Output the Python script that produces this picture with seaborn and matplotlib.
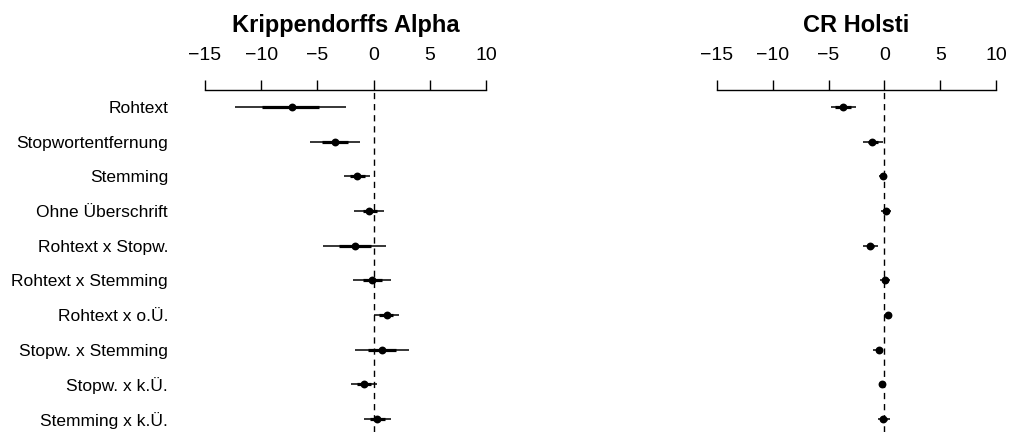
import matplotlib
matplotlib.use("Agg")
import matplotlib.pyplot as plt
import seaborn as sns
import pandas as pd

# Model terms (top to bottom)
terms = [
    "Rohtext", "Stopwortentfernung", "Stemming", "Ohne Überschrift",
    "Rohtext x Stopw.", "Rohtext x Stemming", "Rohtext x o.Ü.",
    "Stopw. x Stemming", "Stopw. x k.Ü.", "Stemming x k.Ü.",
]

# Krippendorffs Alpha: estimate, inner (±1 SE) and outer (±2 SE) intervals
alpha_est = [-7.3, -3.45, -1.5, -0.4, -1.7, -0.15, 1.15, 0.7, -0.9, 0.33]
alpha_lo1 = [-9.9, -4.6, -2.1, -0.97, -3.1, -0.97, 0.5, -0.47, -1.5, -0.32]
alpha_hi1 = [-4.9, -2.25, -0.8, 0.33, -0.23, 0.77, 1.75, 1.96, -0.26, 0.98]
alpha_lo2 = [-12.3, -5.7, -2.63, -1.74, -4.47, -1.83, 0.04, -1.63, -2.04, -0.85]
alpha_hi2 = [-2.5, -1.18, -0.35, 0.95, 1.13, 1.58, 2.23, 3.12, 0.27, 1.52]

# CR Holsti
holsti_est = [-3.7, -1.07, -0.14, 0.13, -1.25, 0.06, 0.3, -0.5, -0.23, -0.13]
holsti_lo1 = [-4.4, -1.5, -0.3, -0.12, -1.6, -0.18, 0.12, -0.75, -0.38, -0.35]
holsti_hi1 = [-3.0, -0.54, 0.05, 0.38, -0.9, 0.3, 0.48, -0.25, -0.08, 0.2]
holsti_lo2 = [-4.8, -1.9, -0.45, -0.32, -1.96, -0.37, 0.0, -1.0, -0.52, -0.58]
holsti_hi2 = [-2.54, -0.14, 0.18, 0.6, -0.54, 0.52, 0.66, -0.1, 0.06, 0.49]

titles = ["Krippendorffs Alpha", "CR Holsti"]
xticks = [-15, -10, -5, 0, 5, 10]

sns.set_theme(style="white")
plt.rcParams["font.family"] = ["Liberation Sans", "DejaVu Sans"]
plt.rcParams["axes.unicode_minus"] = True
plt.rcParams["text.color"] = "black"
plt.rcParams["xtick.color"] = "black"
plt.rcParams["ytick.color"] = "black"
plt.rcParams["xtick.labelcolor"] = "black"
plt.rcParams["ytick.labelcolor"] = "black"

W, H = 1010, 432
fig = plt.figure(figsize=(W / 100, H / 100), dpi=100)

xlim = (-16, 11)
top_px = 90
panels = [
    (193.8, 497.3, alpha_est, alpha_lo1, alpha_hi1, alpha_lo2, alpha_hi2),
    (705.8, 1007.2, holsti_est, holsti_lo1, holsti_hi1, holsti_lo2, holsti_hi2),
]

for i, (l, r, est, lo1, hi1, lo2, hi2) in enumerate(panels):
    ax = fig.add_axes([l / W, 0, (r - l) / W, 1 - top_px / H])
    df = pd.DataFrame({"term": terms, "est": est, "lo1": lo1, "hi1": hi1,
                       "lo2": lo2, "hi2": hi2})
    ypos = list(range(len(terms)))
    ax.axvline(0, color="black", lw=1.0, ls=(0, (4.5, 3.5)), zorder=1)
    ax.hlines(ypos, df["lo2"], df["hi2"], color="black", lw=1.1, zorder=2)
    ax.hlines(ypos, df["lo1"], df["hi1"], color="black", lw=2.3, zorder=3)
    sns.scatterplot(data=df, x="est", y="term", ax=ax, color="black",
                    s=32, edgecolor="black", linewidth=0, zorder=4)
    ax.set_xlim(*xlim)
    ax.set_ylim(len(terms) - 1 + 0.375, -0.49)
    ax.set_xlabel("")
    ax.set_ylabel("")

    for side in ["left", "right", "bottom"]:
        ax.spines[side].set_visible(False)
    ax.spines["top"].set_visible(True)
    ax.spines["top"].set_color("black")
    ax.spines["top"].set_linewidth(1.0)
    ax.spines["top"].set_bounds(xticks[0], xticks[-1])

    ax.xaxis.set_ticks_position("top")
    ax.set_xticks(xticks)
    ax.tick_params(axis="x", direction="out", length=7.5, width=1.0,
                   color="black", labelsize=14, pad=11, top=True, bottom=False,
                   labeltop=True, labelbottom=False, labelcolor="black")
    ax.set_yticks(ypos)
    if i == 0:
        ax.set_yticklabels(terms)
        ax.tick_params(axis="y", length=0, labelsize=12.5, pad=18.5,
                       labelcolor="black")
    else:
        ax.set_yticklabels([])
        ax.tick_params(axis="y", length=0)

    x0 = ax.transData.transform((xticks[0], 0))[0]
    x1 = ax.transData.transform((xticks[-1], 0))[0]
    fig.text((x0 + x1) / 2 / W, 1 - 32 / H, titles[i], ha="center",
             va="baseline", fontsize=17, fontweight="bold", color="black")

fig.savefig("out.png", dpi=100)
